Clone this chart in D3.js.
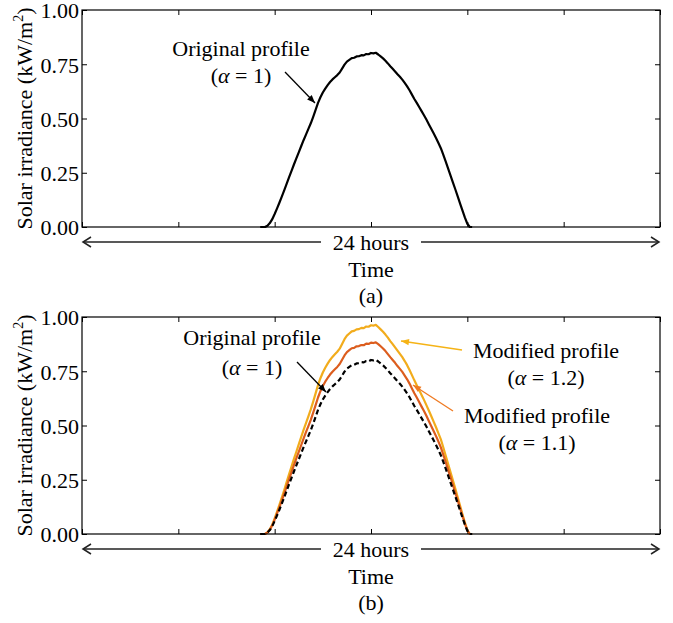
<!DOCTYPE html>
<html><head><meta charset="utf-8">
<script src="https://cdn.jsdelivr.net/npm/d3@7"></script>
<style>body{margin:0;background:#fff}</style>
</head><body>
<svg id="c" width="673" height="623"></svg>
<script>
// ---- data ----
const hours = [7.4,7.5,7.6,7.7,7.8,7.9,8.0,8.1,8.2,8.3,8.4,8.5,8.6,8.7,8.8,8.9,9.0,9.1,9.2,9.3,
  9.4,9.5,9.6,9.7,9.8,9.9,10.0,10.1,10.2,10.3,10.4,10.5,10.6,10.7,10.8,10.9,11.0,11.1,11.2,11.3,
  11.4,11.5,11.6,11.7,11.8,11.9,12.0,12.1,12.2,12.3,12.4,12.5,12.6,12.7,12.8,12.9,13.0,13.1,13.2,13.3,
  13.4,13.5,13.6,13.7,13.8,13.9,14.0,14.1,14.2,14.3,14.4,14.5,14.6,14.7,14.8,14.9,15.0,15.1,15.2,15.3,
  15.4,15.5,15.6,15.7,15.8,15.9,16.0,16.1,16.2];
const original = [0,0,0,0.006,0.018,0.036,0.060,0.086,0.113,0.141,0.170,0.200,0.230,0.259,0.288,0.316,0.344,0.372,0.400,0.426,
  0.452,0.478,0.508,0.540,0.572,0.598,0.620,0.638,0.654,0.668,0.680,0.690,0.700,0.712,0.730,0.748,0.762,0.770,0.778,0.780,
  0.786,0.787,0.792,0.791,0.797,0.796,0.802,0.800,0.803,0.795,0.786,0.777,0.766,0.754,0.741,0.729,0.717,0.704,0.692,0.679,
  0.664,0.648,0.630,0.610,0.590,0.572,0.553,0.534,0.515,0.495,0.474,0.453,0.432,0.410,0.387,0.363,0.333,0.302,0.270,0.238,
  0.206,0.174,0.141,0.108,0.075,0.043,0.015,0,0];
const modified11 = [0,0,0,0.007,0.020,0.040,0.066,0.095,0.124,0.155,0.187,0.220,0.253,0.285,0.317,0.348,0.378,0.409,0.440,0.469,
  0.497,0.526,0.559,0.594,0.629,0.658,0.682,0.702,0.719,0.735,0.748,0.759,0.770,0.783,0.803,0.823,0.838,0.847,0.856,0.858,
  0.865,0.866,0.871,0.870,0.877,0.876,0.882,0.880,0.883,0.875,0.865,0.855,0.843,0.829,0.815,0.802,0.789,0.774,0.761,0.747,
  0.730,0.713,0.693,0.671,0.649,0.629,0.608,0.587,0.567,0.545,0.521,0.498,0.475,0.451,0.426,0.399,0.366,0.332,0.297,0.262,
  0.227,0.191,0.155,0.119,0.083,0.047,0.017,0,0];
const modified12 = [0,0,0,0.007,0.022,0.043,0.072,0.103,0.136,0.169,0.204,0.240,0.276,0.311,0.346,0.379,0.413,0.446,0.480,0.511,
  0.542,0.574,0.610,0.648,0.686,0.718,0.744,0.766,0.785,0.802,0.816,0.828,0.840,0.854,0.876,0.898,0.914,0.924,0.934,0.936,
  0.943,0.944,0.950,0.949,0.956,0.955,0.962,0.960,0.964,0.954,0.943,0.932,0.919,0.905,0.889,0.875,0.860,0.845,0.830,0.815,
  0.797,0.778,0.756,0.732,0.708,0.686,0.664,0.641,0.618,0.594,0.569,0.544,0.518,0.492,0.464,0.436,0.400,0.362,0.324,0.286,
  0.247,0.209,0.169,0.130,0.090,0.052,0.018,0,0];
const xTicks = [0,4,8,12,16,20,24];
const yTicks = [0,0.25,0.5,0.75,1];
const yTickLabels = ["0.00","0.25","0.50","0.75","1.00"];

// ---- drawing ----
const FONT = "'Liberation Serif','Times New Roman','DejaVu Serif',serif";
const svg = d3.select("#c");
const defs = svg.append("defs");
function marker(id, color){
  defs.append("marker").attr("id", id).attr("viewBox","0 0 10 10").attr("refX",10).attr("refY",5)
    .attr("markerWidth",10).attr("markerHeight",8).attr("markerUnits","userSpaceOnUse").attr("orient","auto")
    .append("path").attr("d","M0,1 L10,5 L0,9 Z").attr("fill", color);
}
marker("mBlack","#000"); marker("mYellow","#f5b316"); marker("mOrange","#ef7a22");

const X0 = 82, X1 = 660;
const x = d3.scaleLinear().domain([0,24]).range([X0, X1]);

function panel(top, bottom, lines, caption){
  const y = d3.scaleLinear().domain([0,1]).range([bottom, top]);
  const g = svg.append("g");
  const fmt = (d)=> yTickLabels[yTicks.indexOf(d)];
  const ax = g.append("g").attr("transform",`translate(${X0},0)`)
    .call(d3.axisLeft(y).tickValues(yTicks).tickSize(-5).tickPadding(3).tickFormat(fmt));
  g.append("g").attr("transform",`translate(${X1},0)`).call(d3.axisRight(y).tickValues(yTicks).tickSize(-5).tickFormat(""));
  g.append("g").attr("transform",`translate(0,${bottom})`).call(d3.axisBottom(x).tickValues(xTicks).tickSize(-5).tickFormat(""));
  g.append("g").attr("transform",`translate(0,${top})`).call(d3.axisTop(x).tickValues(xTicks).tickSize(-5).tickFormat(""));
  g.selectAll(".domain").remove();
  g.selectAll(".tick line").attr("stroke","#000").attr("stroke-width",1);
  ax.selectAll("text").attr("font-family",FONT).attr("font-size",22).attr("fill","#000").attr("dy","0.36em");

  const line = d3.line().x((d,i)=>x(hours[i])).y(d=>y(d));
  lines.forEach(L=>{
    g.append("path").datum(L.values).attr("d",line).attr("fill","none")
      .attr("stroke",L.color).attr("stroke-width",2.2).attr("stroke-linejoin","round")
      .attr("stroke-dasharray",L.dash||null);
  });
  g.append("rect").attr("x",X0).attr("y",top).attr("width",X1-X0).attr("height",bottom-top)
    .attr("fill","none").attr("stroke","#000").attr("stroke-width",1.2);

  // y label
  const yl = g.append("text").attr("transform",`translate(32,${(top+bottom)/2}) rotate(-90)`)
    .attr("text-anchor","middle").attr("font-family",FONT).attr("font-size",22).attr("fill","#000");
  yl.append("tspan").text("Solar irradiance (kW/m");
  yl.append("tspan").attr("font-size",14).attr("dy",-9).text("2");
  yl.append("tspan").attr("dy",9).text(")");

  // 24 hours arrow
  const ay = bottom + 15;
  const cx = x(12);
  g.append("line").attr("x1",X0+1).attr("x2",cx-50).attr("y1",ay).attr("y2",ay).attr("stroke","#222").attr("stroke-width",1.5);
  g.append("line").attr("x1",cx+50).attr("x2",X1-1).attr("y1",ay).attr("y2",ay).attr("stroke","#222").attr("stroke-width",1.5);
  g.append("path").attr("d",`M${X0+9},${ay-5} L${X0+1},${ay} L${X0+9},${ay+5}`).attr("fill","none").attr("stroke","#222").attr("stroke-width",1.5);
  g.append("path").attr("d",`M${X1-9},${ay-5} L${X1-1},${ay} L${X1-9},${ay+5}`).attr("fill","none").attr("stroke","#222").attr("stroke-width",1.5);
  const t = (txt, yy)=> g.append("text").attr("x",cx).attr("y",yy).attr("text-anchor","middle")
    .attr("font-family",FONT).attr("font-size",22).attr("fill","#000").text(txt);
  t("24 hours", ay+8);
  t("Time", ay+35);
  t(caption, ay+61);
  return y;
}

function annot(cxText, y1, y2, label, alphaVal, from, to, mk, color){
  svg.append("text").attr("font-family",FONT).attr("font-size",22).attr("fill","#000").attr("text-anchor","middle")
    .attr("x",cxText).attr("y",y1).text(label);
  const b = svg.append("text").attr("font-family",FONT).attr("font-size",22).attr("fill","#000").attr("text-anchor","middle")
    .attr("x",cxText).attr("y",y2);
  b.append("tspan").text("(");
  b.append("tspan").attr("font-style","italic").text("α");
  b.append("tspan").text(" = " + alphaVal + ")");
  svg.append("line").attr("x1",from[0]).attr("y1",from[1]).attr("x2",to[0]).attr("y2",to[1])
    .attr("stroke",color).attr("stroke-width",1.3).attr("marker-end",`url(#${mk})`);
}

panel(10, 227, [{values: original, color:"#000"}], "(a)");
panel(317, 534, [
  {values: modified12, color:"#f2ac1c"},
  {values: modified11, color:"#dc5d1e"},
  {values: original, color:"#000", dash:"5,3"}
], "(b)");

annot(241, 56, 83, "Original profile", "1", [285,72], [315,103], "mBlack", "#000");
annot(252, 345, 375, "Original profile", "1", [297,362], [326,392], "mBlack", "#000");
annot(546, 358, 385, "Modified profile", "1.2", [462,350], [401,341], "mYellow", "#f5b316");
annot(537, 423, 450, "Modified profile", "1.1", [453,411], [413,385], "mOrange", "#ef7a22");
</script>
</body></html>
